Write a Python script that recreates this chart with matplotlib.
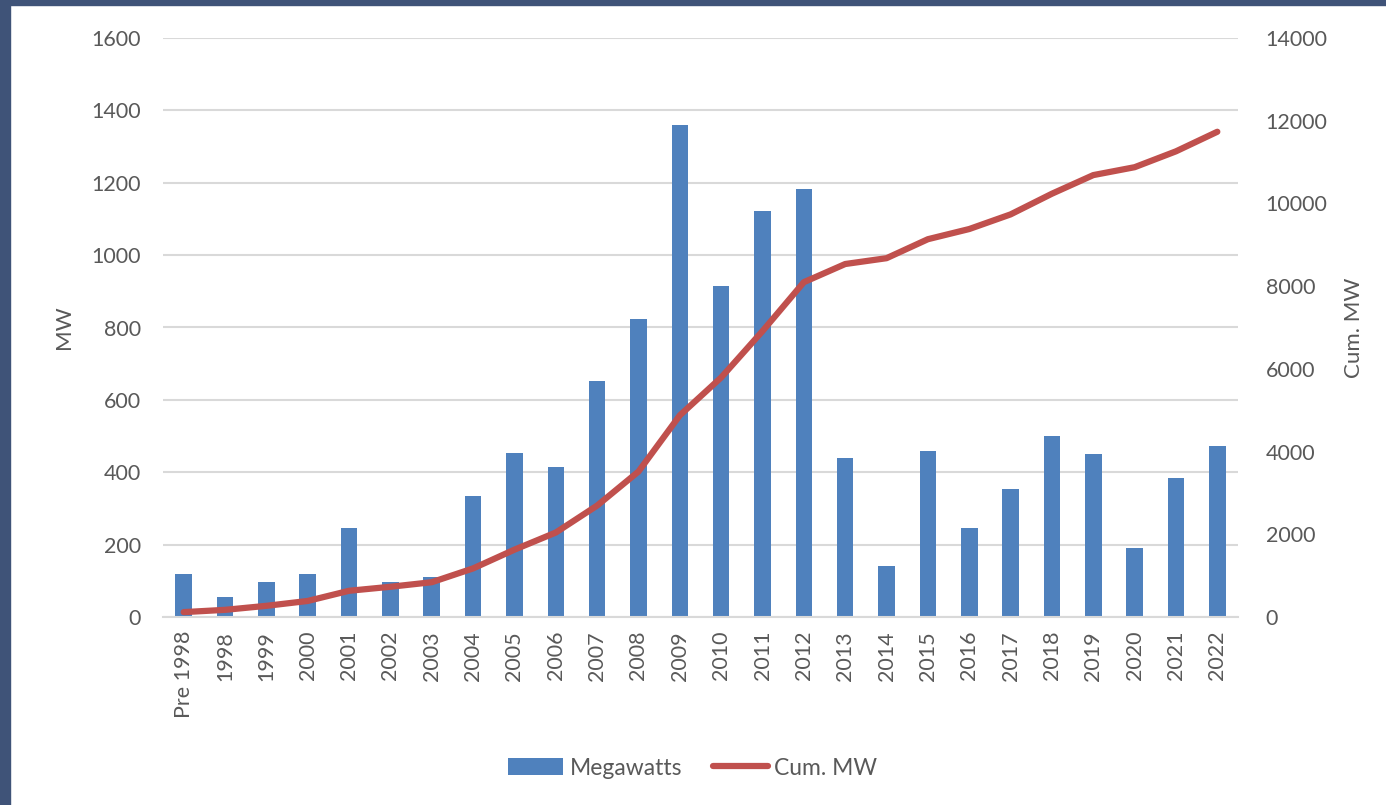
# Annual and cumulative megawatts, bar + line on twin axes

import numpy as np
import matplotlib.pyplot as plt
from matplotlib.patches import Rectangle

years = ['Pre 1998', '1998', '1999', '2000', '2001', '2002', '2003', '2004',
         '2005', '2006', '2007', '2008', '2009', '2010', '2011', '2012',
         '2013', '2014', '2015', '2016', '2017', '2018', '2019', '2020',
         '2021', '2022']
megawatts = [118, 55, 97, 118, 246, 97, 110, 334, 453, 414, 652, 823, 1359,
             915, 1122, 1183, 439, 141, 459, 246, 354, 500, 450, 191, 384, 473]
cum_mw = [118, 173, 270, 388, 634, 731, 841, 1175, 1628, 2042, 2694, 3517,
          4876, 5791, 6913, 8096, 8535, 8676, 9135, 9381, 9735, 10235, 10685,
          10876, 11260, 11733]

plt.rcParams['font.family'] = ['Lato', 'DejaVu Sans']
grey = '#595959'
fs = 15.5

fig = plt.figure(figsize=(13.86, 8.05), dpi=100)
fig.patches.append(Rectangle((0, 0), 10/1386, 1, transform=fig.transFigure,
                             color='#3f5378', zorder=0))
fig.patches.append(Rectangle((0, 1 - 5/805), 1, 5/805, transform=fig.transFigure,
                             color='#3f5378', zorder=0))

ax = fig.add_axes([163/1386, 1 - 617/805, (1238-163)/1386, (617-38)/805])
ax2 = ax.twinx()

x = np.arange(len(years))
ax.bar(x, megawatts, width=0.4, color='#4f81bd', zorder=2, label='Megawatts')
ax2.plot(x, cum_mw, color='#c0504d', linewidth=4.5, solid_capstyle='round',
         zorder=3, label='Cum. MW')

ax.set_xlim(-0.5, len(years) - 0.5)
ax.set_ylim(0, 1600)
ax2.set_ylim(0, 14000)
ax.set_yticks(np.arange(0, 1601, 200))
ax2.set_yticks(np.arange(0, 14001, 2000))
ax.yaxis.grid(True, color='#d9d9d9', linewidth=1.5, zorder=0)
ax.set_axisbelow(True)

for a in (ax, ax2):
    for s in a.spines.values():
        s.set_visible(False)
    a.tick_params(length=0, labelsize=fs, labelcolor=grey)
ax.spines['bottom'].set_visible(True)
ax.spines['bottom'].set_color('#d9d9d9')
ax.spines['bottom'].set_linewidth(1.5)

ax.set_xticks(x)
ax.set_xticklabels(years, rotation=90)
ax.tick_params(axis='x', pad=10)
ax.tick_params(axis='y', pad=16)
ax2.tick_params(axis='y', pad=20)

ax.set_ylabel('MW', fontsize=fs + 0.5, color=grey, labelpad=12)
ax2.set_ylabel('Cum. MW', fontsize=fs + 0.5, color=grey, labelpad=12)

h1, l1 = ax.get_legend_handles_labels()
h2, l2 = ax2.get_legend_handles_labels()
fig.legend(h1 + h2, l1 + l2, loc='center', bbox_to_anchor=(0.5, 1 - 768/805),
           ncol=2, frameon=False, fontsize=fs + 1, labelcolor=grey,
           handlelength=2.4, handletextpad=0.3, columnspacing=1.3)

fig.savefig('out.png', dpi=100)
